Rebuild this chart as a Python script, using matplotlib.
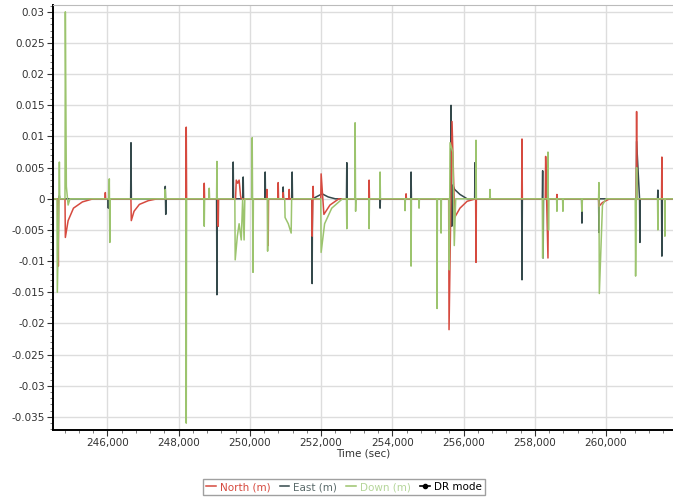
import matplotlib
matplotlib.use("Agg")
import matplotlib.pyplot as plt
from matplotlib.ticker import MultipleLocator, FuncFormatter

# Error traces (m) vs. GPS time (sec)
north_t = [244480, 244615, 244625, 244635, 244812, 244822, 244900, 245050, 245300, 245600,
           245934, 245944, 245954, 246663, 246673, 246750, 246900, 247150, 247400,
           248206, 248216, 248226, 248711, 248721, 248731, 249104, 249114, 249124,
           249600, 249620, 249660, 249700, 249740, 249760, 250470, 250480, 250490,
           250506, 250516, 250526, 250787, 250797, 250807, 250927, 250937, 250947,
           251095, 251105, 251115, 251740, 251750, 251778, 251788, 251992, 252002,
           252080, 252250, 252500, 253339, 253349, 253359, 254377, 254387, 254397,
           255583, 255593, 255677, 255750, 255900, 256100, 256340, 256350, 256360,
           257631, 257641, 257651, 258295, 258305, 258370, 258380, 258612, 258622,
           258632, 259791, 259801, 259900, 260100, 260848, 260858, 260868, 261558,
           261568, 261578, 261880]
north_v = [0, 0, -0.0108, 0, 0, -0.0062, -0.0035, -0.0015, -0.0005, 0,
           0, 0.001, 0, 0, -0.0035, -0.002, -0.0009, -0.0003, 0,
           0, 0.0115, 0, 0, 0.0025, 0, 0, -0.0044, 0,
           0, 0.003, 0.0025, 0.003, 0.0005, 0, 0, 0.0015, 0,
           0, -0.0075, 0, 0, 0.0026, 0, 0, 0.001, 0,
           0, 0.0015, 0, 0, -0.006, 0.002, 0, 0, 0.004,
           -0.0025, -0.001, 0, 0, 0.003, 0, 0, 0.0008, 0,
           0, -0.021, 0.0124, -0.003, -0.0015, -0.0004, 0, -0.0102, 0,
           0, 0.0096, 0, 0, 0.0068, -0.0095, 0, 0, 0.0007,
           0, 0, -0.0012, -0.0006, 0, 0, 0.014, 0, 0,
           0.0067, 0, 0]

east_t = [244480, 244644, 244654, 244664, 246018, 246028, 246038, 246655, 246665, 246675,
          247617, 247627, 247640, 247650, 249067, 249077, 249087, 249524, 249534, 249544,
          249805, 249815, 249825, 250422, 250432, 250442, 250927, 250937, 250947,
          251179, 251189, 251199, 251740, 251750, 251760, 252030, 252200, 252400,
          252713, 252723, 252733, 253647, 253657, 253667, 254517, 254527, 254537,
          255639, 255649, 255670, 255700, 255750, 255900, 256100, 256312, 256322, 256332,
          257631, 257641, 257651, 258211, 258221, 258235, 258245, 259314, 259324, 259334,
          259791, 259801, 259811, 260848, 260858, 260941, 260951, 260961,
          261446, 261456, 261466, 261558, 261568, 261578, 261880]
east_v = [0, 0, 0.0005, 0, 0, -0.0015, 0, 0, 0.009, 0,
          0, 0.002, -0.0025, 0, 0, -0.0154, 0, 0, 0.0059, 0,
          0, 0.0035, 0, 0, 0.0043, 0, 0, 0.0019, 0,
          0, 0.0043, 0, 0, -0.0136, 0, 0.0008, 0.0003, 0,
          0, 0.0058, 0, 0, -0.0015, 0, 0, 0.0043, 0,
          0, 0.015, -0.0044, 0.0022, 0.0015, 0.0007, 0, 0, 0.0058, 0,
          0, -0.013, 0, 0, 0.0045, -0.0095, 0, 0, -0.0039, 0,
          0, -0.0054, 0, 0, 0.0092, 0, -0.007, 0,
          0, 0.0014, 0, 0, -0.0092, 0, 0]

down_t = [244480, 244587, 244597, 244644, 244654, 244664, 244812, 244822, 244850, 244900, 244950,
          246046, 246056, 246070, 246080, 247617, 247627, 247637, 248206, 248216, 248226,
          248711, 248721, 248731, 248851, 248861, 248871, 249067, 249077, 249087,
          249580, 249590, 249650, 249700, 249760, 249800, 249840, 249860,
          250057, 250067, 250090, 250100, 250490, 250500, 250510, 250980, 250990, 251080,
          251161, 251175, 251992, 252002, 252100, 252300, 252600, 252713, 252723, 252733,
          252946, 252956, 252970, 252980, 253339, 253349, 253359, 253647, 253657, 253667,
          254348, 254358, 254368, 254517, 254527, 254537, 254741, 254751, 254761,
          255247, 255257, 255267, 255359, 255369, 255379, 255590, 255600, 255621, 255700,
          255740, 255780, 256340, 256350, 256360, 256733, 256743, 256753,
          258211, 258221, 258231, 258360, 258370, 258385, 258395, 258612, 258622, 258632,
          258780, 258790, 258800, 259314, 259324, 259334, 259791, 259801, 259812, 259900,
          260000, 260820, 260830, 260858, 260868, 261446, 261456, 261466, 261642, 261652,
          261662, 261880]
down_v = [0, 0, -0.015, 0, 0.0059, 0, 0, 0.030, 0.002, -0.001, 0,
          0, 0.0032, -0.007, 0, 0, 0.0015, 0, 0, -0.036, 0,
          0, -0.0044, 0, 0, 0.0017, 0, 0, 0.006, 0,
          0, -0.0098, -0.006, -0.004, -0.0066, 0, -0.0066, 0,
          0, 0.0098, -0.0118, 0, 0, -0.0084, 0, 0, -0.003, -0.004,
          -0.0055, 0, 0, -0.0086, -0.004, -0.0015, 0, 0, -0.0048, 0,
          0, 0.0122, -0.002, 0, 0, -0.0048, 0, 0, 0.0043, 0,
          0, -0.0019, 0, 0, -0.0108, 0, 0, -0.0015, 0,
          0, -0.0176, 0, 0, -0.0055, 0, 0, -0.0114, 0.009, 0.0075,
          -0.0075, 0, 0, 0.0094, 0, 0, 0.0015, 0,
          0, -0.0095, 0, 0, 0.0075, -0.005, 0, 0, -0.002, 0,
          0, -0.002, 0, 0, -0.002, 0, 0, 0.0026, -0.0152, -0.001,
          0, 0, -0.0124, 0.005, 0, 0, -0.005, 0, 0, -0.006,
          0, 0]

dr_t = []
dr_v = []

x_ticks = [246000, 248000, 250000, 252000, 254000, 256000, 258000, 260000]

north_c = "#d64a3f"
east_c = "#34494b"
down_c = "#9cc46e"

fig = plt.figure(figsize=(6.73, 5.0), dpi=100)
ax = fig.add_axes([0.079, 0.14, 0.921, 0.85])

ax.plot(east_t, east_v, color=east_c, lw=1.1, label="East (m)")
ax.plot(north_t, north_v, color=north_c, lw=1.1, label="North (m)")
ax.plot(down_t, down_v, color=down_c, lw=1.1, label="Down (m)")
ax.plot(dr_t, dr_v, color="black", lw=1.2, marker="o", ms=3, label="DR mode")

ax.set_xlim(244480, 261880)
ax.set_ylim(-0.0371, 0.0311)
ax.set_xticks(x_ticks)
ax.xaxis.set_minor_locator(MultipleLocator(400))
ax.yaxis.set_major_locator(MultipleLocator(0.005))
ax.yaxis.set_minor_locator(MultipleLocator(0.001))
ax.xaxis.set_major_formatter(FuncFormatter(lambda v, p: f"{int(v):,}"))
ax.yaxis.set_major_formatter(FuncFormatter(lambda v, p: f"{round(v, 4):g}"))

ax.grid(True, which="major", color="#dddddd", lw=1)
ax.set_axisbelow(True)
ax.tick_params(labelsize=7.5, colors="#333333", length=4, pad=2)
ax.tick_params(which="minor", length=2, color="#666666")

for s in ["left", "bottom"]:
    ax.spines[s].set_color("black")
    ax.spines[s].set_linewidth(1.4)
ax.spines["top"].set_color("#bbbbbb")
ax.spines["right"].set_visible(False)

ax.set_xlabel("Time (sec)", fontsize=7.5, color="#333333", labelpad=0)

h, l = ax.get_legend_handles_labels()
order = [1, 0, 2, 3]
leg = fig.legend([h[i] for i in order], [l[i] for i in order], loc="center",
                 bbox_to_anchor=(0.511, 0.026), ncol=4, fontsize=7.5, frameon=True,
                 fancybox=False, edgecolor="#888888", handlelength=0.9,
                 columnspacing=0.9, handletextpad=0.4, borderpad=0.3)
for txt, c in zip(leg.get_texts(), [north_c, "#5b6b6b", "#b5d69a", "black"]):
    txt.set_color(c)

fig.savefig("out.png", dpi=100)
